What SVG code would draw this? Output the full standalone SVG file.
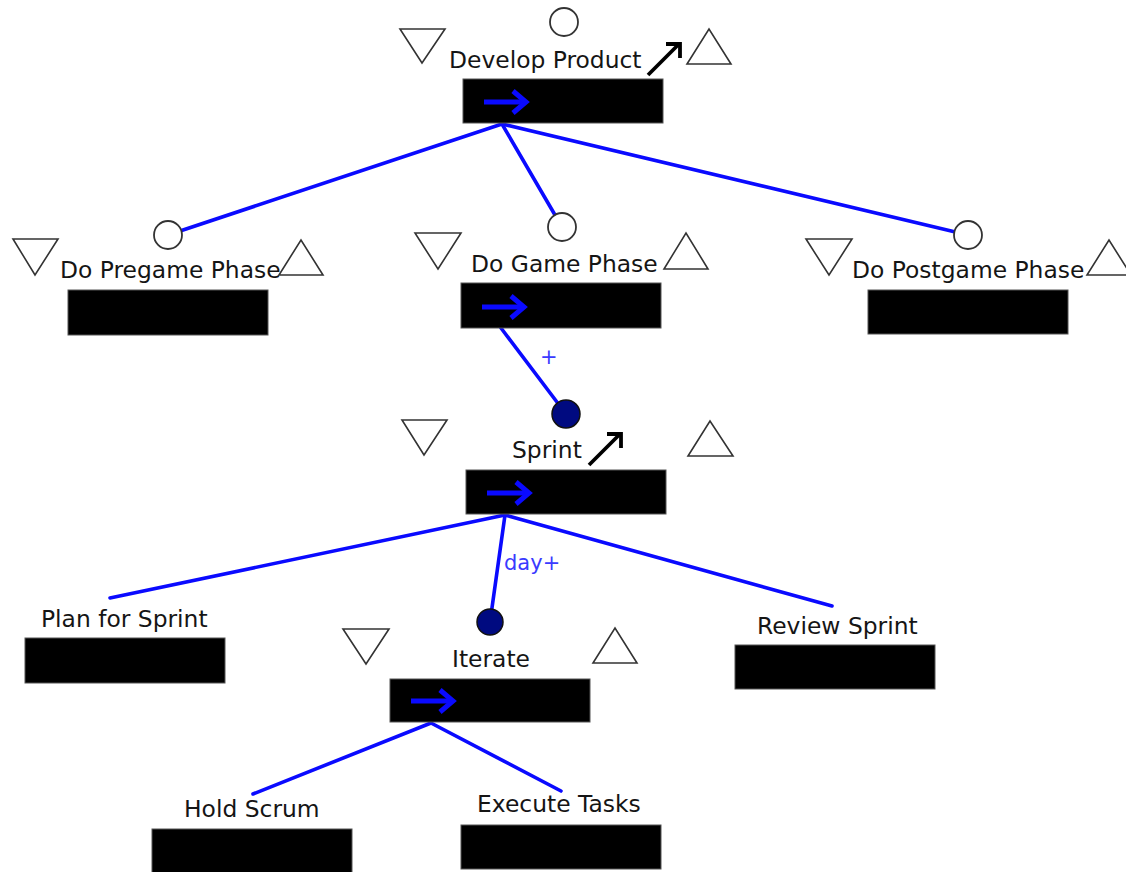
<svg xmlns="http://www.w3.org/2000/svg" width="1126" height="872" viewBox="0 0 1126 872">
  <defs>
    <style>
      .bg { fill: #ffffff; }
      .box { fill: #000000; stroke: #555555; stroke-width: 1; }
      .label { font-family: "DejaVu Sans", "Liberation Sans", sans-serif; font-size: 23.4px; fill: #151515; }
      .edge-label { font-family: "DejaVu Sans", "Liberation Sans", sans-serif; font-size: 21px; fill: #3a3aff; }
      .link { stroke: #0a0aff; stroke-width: 3.6; fill: none; stroke-linecap: round; }
      .tri { fill: #ffffff; stroke: #333333; stroke-width: 1.6; stroke-linejoin: miter; }
      .ring { fill: #ffffff; stroke: #333333; stroke-width: 1.8; }
      .dot { fill: #000a80; stroke: #111111; stroke-width: 1.5; }
      .seq { stroke: #0a0aff; stroke-width: 5; fill: none; stroke-linecap: butt; stroke-linejoin: miter; }
      .jump { stroke: #000000; stroke-width: 3.8; fill: none; stroke-linecap: butt; }
    </style>
    <!-- sequence arrow shown inside a task box -->
    <g id="seqArrow">
      <path class="seq" d="M0,0 H40"/>
      <path class="seq" d="M29,-11 L42,0 L29,11"/>
    </g>
    <!-- diagonal jump arrow -->
    <g id="jumpArrow">
      <path class="jump" d="M0,0 L31,-31"/>
      <path class="jump" d="M18,-31 L32,-31 L32,-17"/>
    </g>
  </defs>

  <rect class="bg" x="0" y="0" width="1126" height="872"/>

  <!-- connectors -->
  <g id="connectors">
    <line class="link" x1="502" y1="124" x2="168" y2="235"/>
    <line class="link" x1="502" y1="124" x2="562" y2="227"/>
    <line class="link" x1="502" y1="124" x2="968" y2="235"/>
    <line class="link" x1="501" y1="328" x2="566" y2="414"/>
    <text class="edge-label" x="540" y="364">+</text>
    <line class="link" x1="505" y1="515" x2="110" y2="598"/>
    <line class="link" x1="505" y1="515" x2="490" y2="622"/>
    <line class="link" x1="505" y1="515" x2="832" y2="606"/>
    <text class="edge-label" x="504" y="570">day+</text>
    <line class="link" x1="431" y1="723" x2="253" y2="794"/>
    <line class="link" x1="431" y1="723" x2="561" y2="791"/>
  </g>

  <!-- Develop Product -->
  <g id="develop-product">
    <circle class="ring" cx="564" cy="22" r="14"/>
    <polygon class="tri" points="400,29 445,29 422,63"/>
    <polygon class="tri" points="687,64 731,64 709,29"/>
    <text class="label" x="449" y="68">Develop Product</text>
    <use href="#jumpArrow" x="648" y="75"/>
    <rect class="box" x="463" y="79" width="200" height="44"/>
    <use href="#seqArrow" x="484" y="102"/>
  </g>

  <!-- Do Pregame Phase -->
  <g id="do-pregame-phase">
    <circle class="ring" cx="168" cy="235" r="14"/>
    <polygon class="tri" points="13,239 58,239 35,275"/>
    <polygon class="tri" points="279,275 323,275 301,240"/>
    <text class="label" x="60" y="278">Do Pregame Phase</text>
    <rect class="box" x="68" y="290" width="200" height="45"/>
  </g>

  <!-- Do Game Phase -->
  <g id="do-game-phase">
    <circle class="ring" cx="562" cy="227" r="14"/>
    <polygon class="tri" points="415,233 461,233 438,269"/>
    <polygon class="tri" points="664,269 708,269 686,233"/>
    <text class="label" x="471" y="272">Do Game Phase</text>
    <rect class="box" x="461" y="283" width="200" height="45"/>
    <use href="#seqArrow" x="482" y="307"/>
  </g>

  <!-- Do Postgame Phase -->
  <g id="do-postgame-phase">
    <circle class="ring" cx="968" cy="235" r="14"/>
    <polygon class="tri" points="806,239 852,239 829,275"/>
    <polygon class="tri" points="1087,275 1131,275 1109,240"/>
    <text class="label" x="852" y="278">Do Postgame Phase</text>
    <rect class="box" x="868" y="290" width="200" height="44"/>
  </g>

  <!-- Sprint -->
  <g id="sprint">
    <circle class="dot" cx="566" cy="414" r="14"/>
    <polygon class="tri" points="402,420 447,420 424,455"/>
    <polygon class="tri" points="688,456 733,456 710,421"/>
    <text class="label" x="512" y="458">Sprint</text>
    <use href="#jumpArrow" x="589" y="465"/>
    <rect class="box" x="466" y="470" width="200" height="44"/>
    <use href="#seqArrow" x="487" y="493"/>
  </g>

  <!-- Plan for Sprint -->
  <g id="plan-for-sprint">
    <text class="label" x="41" y="627">Plan for Sprint</text>
    <rect class="box" x="25" y="638" width="200" height="45"/>
  </g>

  <!-- Iterate -->
  <g id="iterate">
    <circle class="dot" cx="490" cy="622" r="13"/>
    <polygon class="tri" points="343,629 389,629 366,664"/>
    <polygon class="tri" points="593,663 637,663 615,628"/>
    <text class="label" x="452" y="667">Iterate</text>
    <rect class="box" x="390" y="679" width="200" height="43"/>
    <use href="#seqArrow" x="411" y="701"/>
  </g>

  <!-- Review Sprint -->
  <g id="review-sprint">
    <text class="label" x="757" y="634">Review Sprint</text>
    <rect class="box" x="735" y="645" width="200" height="44"/>
  </g>

  <!-- Hold Scrum -->
  <g id="hold-scrum">
    <text class="label" x="184" y="817">Hold Scrum</text>
    <rect class="box" x="152" y="829" width="200" height="44"/>
  </g>

  <!-- Execute Tasks -->
  <g id="execute-tasks">
    <text class="label" x="477" y="812">Execute Tasks</text>
    <rect class="box" x="461" y="825" width="200" height="44"/>
  </g>
</svg>
